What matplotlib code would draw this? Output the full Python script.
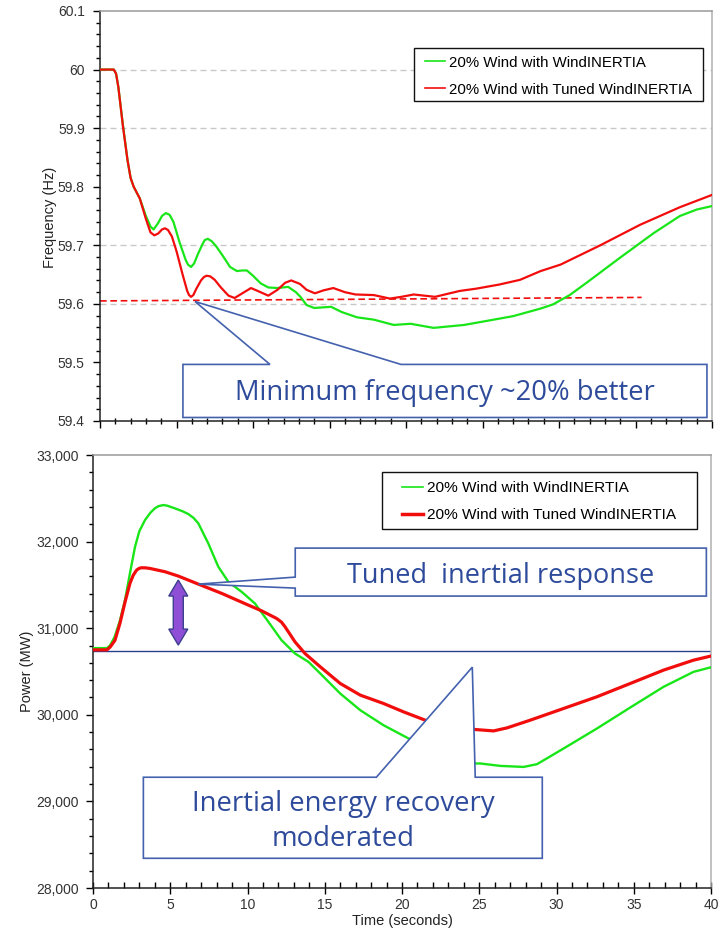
import matplotlib
matplotlib.use("Agg")
import matplotlib.pyplot as plt
from matplotlib.lines import Line2D
from matplotlib.patches import Polygon, Rectangle
from matplotlib.transforms import IdentityTransform
from matplotlib.ticker import MultipleLocator, FuncFormatter, FixedLocator

plt.rcParams['font.family'] = ['Liberation Sans', 'DejaVu Sans']

# ---------------- data ----------------
series_labels = ["20% Wind with WindINERTIA", "20% Wind with Tuned WindINERTIA"]

freq_green_t = [0, 0.9, 1.05, 1.2, 1.5, 1.8, 2.0, 2.2, 2.6, 3.0, 3.3, 3.5, 3.8, 4.05, 4.3, 4.55,
                4.8, 5.2, 5.6, 5.75, 5.95, 6.15, 6.4, 6.7, 6.85, 7.05, 7.3, 7.6, 8.0, 8.5, 8.95,
                9.3, 9.6, 10.0, 10.5, 11.0, 11.6, 12.3, 12.8, 13.1, 13.5, 14.0, 14.6, 15.1, 15.8,
                16.8, 17.9, 19.2, 20.3, 21.8, 23.8, 25.3, 27.0, 28.8, 29.6, 30.7, 31.8, 34.0,
                36.2, 37.9, 39.0, 40.0]
freq_green = [60.0, 60.0, 59.993, 59.97, 59.905, 59.845, 59.815, 59.800, 59.780, 59.750, 59.732,
              59.727, 59.738, 59.750, 59.755, 59.752, 59.740, 59.705, 59.675, 59.667, 59.663,
              59.669, 59.685, 59.702, 59.709, 59.711, 59.707, 59.698, 59.683, 59.663, 59.656,
              59.657, 59.657, 59.648, 59.635, 59.628, 59.627, 59.629, 59.620, 59.612, 59.598,
              59.593, 59.594, 59.595, 59.586, 59.577, 59.573, 59.564, 59.566, 59.559, 59.564,
              59.571, 59.579, 59.592, 59.599, 59.615, 59.636, 59.679, 59.721, 59.750, 59.761,
              59.767]

freq_red_t = [0, 0.9, 1.05, 1.2, 1.5, 1.8, 2.0, 2.2, 2.6, 3.0, 3.3, 3.55, 3.8, 4.05, 4.25, 4.45,
              4.7, 5.0, 5.4, 5.7, 5.82, 5.95, 6.1, 6.3, 6.6, 6.8, 6.97, 7.2, 7.5, 7.9, 8.4, 8.8,
              9.3, 9.87, 10.4, 11.0, 11.6, 12.1, 12.5, 13.07, 13.5, 14.05, 14.6, 15.25, 16.0,
              16.7, 17.9, 18.95, 19.7, 20.5, 21.9, 23.5, 24.6, 26.1, 27.45, 28.8, 30.1, 32.7,
              35.3, 37.9, 40.0]
freq_red = [60.0, 60.0, 59.993, 59.97, 59.903, 59.845, 59.815, 59.800, 59.780, 59.745, 59.722,
            59.717, 59.720, 59.727, 59.729, 59.726, 59.715, 59.690, 59.650, 59.622, 59.615,
            59.612, 59.615, 59.626, 59.640, 59.646, 59.648, 59.647, 59.641, 59.628, 59.614,
            59.610, 59.618, 59.627, 59.621, 59.614, 59.624, 59.636, 59.640, 59.634, 59.624,
            59.618, 59.623, 59.627, 59.620, 59.616, 59.615, 59.609, 59.612, 59.616, 59.612,
            59.622, 59.626, 59.633, 59.641, 59.656, 59.667, 59.700, 59.735, 59.765, 59.786]

min_freq_line_t = [0.0, 35.4]
min_freq_line = [59.605, 59.611]

power_green_t = [0, 0.9, 1.1, 1.4, 1.75, 2.07, 2.39, 2.72, 3.0, 3.37, 3.7, 4.0, 4.25, 4.55, 4.8,
                 5.3, 5.8, 6.17, 6.5, 6.82, 7.46, 8.11, 8.76, 9.62, 10.48, 11.35, 12.2, 13.07,
                 13.94, 14.71, 16.0, 17.3, 18.8, 20.43, 24.74, 25.07, 26.36, 27.87, 28.74,
                 30.46, 32.62, 34.78, 36.93, 38.87, 39.96]
power_green = [30770, 30770, 30800, 30900, 31093, 31325, 31633, 31940, 32120, 32250, 32330,
               32384, 32410, 32422, 32415, 32384, 32350, 32318, 32275, 32210, 31980, 31710,
               31536, 31420, 31286, 31074, 30862, 30708, 30612, 30477, 30246, 30053, 29880,
               29726, 29438, 29438, 29410, 29398, 29430, 29611, 29842, 30085, 30323, 30496,
               30547]

power_red_t = [0, 0.9, 1.1, 1.42, 1.75, 2.07, 2.39, 2.6, 2.82, 3.0, 3.15, 3.4, 3.69, 4.66, 5.52,
               6.82, 8.33, 10.05, 10.91, 11.88, 12.2, 12.43, 12.75, 13.07, 13.72, 14.71, 16.0,
               17.3, 18.8, 20.1, 21.5, 24.74, 25.93, 26.8, 28.3, 30.46, 32.6, 34.78, 36.93,
               38.87, 39.96]
power_red = [30750, 30750, 30780, 30860, 31060, 31300, 31517, 31610, 31671, 31692, 31698,
             31697, 31690, 31652, 31602, 31509, 31402, 31267, 31201, 31113, 31070, 31016,
             30930, 30843, 30708, 30554, 30362, 30227, 30131, 30034, 29938, 29830, 29814,
             29849, 29938, 30073, 30207, 30362, 30516, 30631, 30677]

power_baseline = 30735

freq_grid = [60.0, 59.9, 59.7, 59.6]
freq_ticks = [59.4, 59.5, 59.6, 59.7, 59.8, 59.9, 60.0, 60.1]
power_ticks = [28000, 29000, 30000, 31000, 32000, 33000]
time_ticks = [0, 5, 10, 15, 20, 25, 30, 35, 40]

callout_top_text = "Minimum frequency ~20% better"
callout_tuned_text = "Tuned  inertial response"
callout_energy_text = ["Inertial energy recovery", "moderated"]

GREEN = '#19E619'
RED = '#F20D0D'
NAVY = '#2E4B9B'
EDGE = '#4461AE'

# ---------------- figure ----------------
fig = plt.figure(figsize=(7.2, 9.31), dpi=100)
W, H = 720, 931
ax1 = fig.add_axes([100 / W, 1 - 421 / H, 612 / W, 410 / H])
ax2 = fig.add_axes([93 / W, 1 - 888 / H, 618 / W, 433 / H])

for ax in (ax1, ax2):
    ax.spines['left'].set_color('#222222')
    ax.spines['bottom'].set_color('#222222')
    ax.spines['top'].set_color('#9a9a9a')
    ax.spines['right'].set_color('#b0b0b0')
    for s in ax.spines.values():
        s.set_linewidth(1.1)
    ax.set_xlim(0, 40)

# top chart
ax1.set_ylim(59.4, 60.1)
for g in freq_grid:
    ax1.axhline(g, color='#c8c8c8', lw=1.0, ls=(0, (4.3, 2.9)), zorder=0)
ax1.plot(freq_green_t, freq_green, color=GREEN, lw=1.6, zorder=3)
ax1.plot(freq_red_t, freq_red, color=RED, lw=1.6, zorder=4)
ax1.plot(min_freq_line_t, min_freq_line, color=RED, lw=1.2, ls=(0, (4, 2.2)), zorder=2)

ax1.xaxis.set_major_locator(FixedLocator(time_ticks))
ax1.xaxis.set_minor_locator(MultipleLocator(1))
ax1.set_xticklabels([])
ax1.yaxis.set_major_locator(FixedLocator(freq_ticks))
ax1.yaxis.set_minor_locator(MultipleLocator(0.02))
ax1.yaxis.set_major_formatter(FuncFormatter(lambda v, p: f"{v:g}"))
ax1.tick_params(axis='y', which='major', direction='out', length=5, width=1, labelsize=10,
                labelcolor='#333333', pad=6)
ax1.tick_params(axis='y', which='minor', direction='out', length=3, width=1)
ax1.tick_params(axis='x', which='major', direction='out', length=5, width=1)
ax1.tick_params(axis='x', which='minor', direction='inout', length=4, width=1)

# legend 1: box drawn separately to match the reference padding
ax1.add_patch(Rectangle((314 / 612, 320 / 410), 289 / 612, 53 / 410, transform=ax1.transAxes,
                        facecolor='white', edgecolor='#111111', lw=1.0, zorder=8))
leg1 = ax1.legend([Line2D([], [], color=GREEN, lw=1.2), Line2D([], [], color=RED, lw=1.2)],
                  series_labels, loc='upper left', bbox_to_anchor=(325 / 612, 365.5 / 410),
                  borderaxespad=0, borderpad=0, fontsize=10.8, frameon=False,
                  handlelength=1.33, handletextpad=0.27, labelspacing=0.88)
leg1.set_zorder(9)

# bottom chart
ax2.set_ylim(28000, 33000)
ax2.axhline(power_baseline, color='#2B3F8F', lw=1.0, zorder=2)
ax2.plot(power_green_t, power_green, color=GREEN, lw=1.7, zorder=3)
ax2.plot(power_red_t, power_red, color=RED, lw=2.3, zorder=4)

ax2.xaxis.set_major_locator(FixedLocator(time_ticks))
ax2.xaxis.set_minor_locator(MultipleLocator(1))
ax2.yaxis.set_major_locator(FixedLocator(power_ticks))
ax2.yaxis.set_minor_locator(MultipleLocator(200))
ax2.yaxis.set_major_formatter(FuncFormatter(lambda v, p: f"{int(v):,}"))
ax2.tick_params(axis='y', which='major', direction='out', length=5, width=1, labelsize=10,
                labelcolor='#333333', pad=5)
ax2.tick_params(axis='y', which='minor', direction='out', length=3, width=1)
ax2.tick_params(axis='x', which='major', direction='inout', length=8, width=1, labelsize=10,
                labelcolor='#333333', pad=3)
ax2.tick_params(axis='x', which='minor', direction='in', length=4, width=1)

ax2.add_patch(Rectangle((289 / 618, 359 / 433), 315 / 618, 57 / 433, transform=ax2.transAxes,
                        facecolor='white', edgecolor='#111111', lw=1.0, zorder=8))
leg2 = ax2.legend([Line2D([], [], color=GREEN, lw=1.2), Line2D([], [], color=RED, lw=2.5)],
                  series_labels, loc='upper left', bbox_to_anchor=(309 / 618, 406.5 / 433),
                  borderaxespad=0, borderpad=0, fontsize=11.1, frameon=False,
                  handlelength=1.35, handletextpad=0.27, labelspacing=0.84)
leg2.set_zorder(9)

# axis labels
fig.text(50 / W, 1 - 217 / H, "Frequency (Hz)", rotation=90, ha='center', va='center',
         fontsize=10.5, color='#222222')
fig.text(27 / W, 1 - 671 / H, "Power (MW)", rotation=90, ha='center', va='center',
         fontsize=10.5, color='#222222')
fig.text(402 / W, 1 - 921 / H, "Time (seconds)", ha='center', va='center',
         fontsize=10.5, color='#222222')

# ---------------- callouts ----------------
cfont = ['Open Sans', 'DejaVu Sans']

top_poly = [(5.42, 59.4966), (11.11, 59.4966), (6.21, 59.604), (19.67, 59.4966),
            (39.67, 59.4966), (39.67, 59.406), (5.42, 59.406)]
ax1.add_patch(Polygon(top_poly, closed=True, facecolor='white', edgecolor=EDGE, lw=1.2, zorder=6))
t_top = ax1.text(22.55, 59.4352, callout_top_text, ha='center', va='baseline',
                 color=NAVY, fontsize=20, family=cfont, zorder=7)

tuned_poly = [(13.09, 31925), (39.7, 31925), (39.7, 31371), (13.09, 31371), (13.09, 31463),
              (6.82, 31509), (13.09, 31590)]
ax2.add_patch(Polygon(tuned_poly, closed=True, facecolor='white', edgecolor=EDGE, lw=1.2, zorder=6))
t_tuned = ax2.text(26.4, 31517, callout_tuned_text, ha='center', va='baseline',
                   color=NAVY, fontsize=20, family=cfont, zorder=7)

energy_poly = [(3.26, 29279), (18.34, 29279), (24.55, 30550), (24.74, 29279), (29.08, 29279),
               (29.08, 28343), (3.26, 28343)]
ax2.add_patch(Polygon(energy_poly, closed=True, facecolor='white', edgecolor=EDGE, lw=1.2, zorder=6))
t_e1 = ax2.text(16.17, 28886, callout_energy_text[0], ha='center', va='baseline',
                color=NAVY, fontsize=20, family=cfont, zorder=7)
t_e2 = ax2.text(16.17, 28482, callout_energy_text[1], ha='center', va='baseline',
                color=NAVY, fontsize=20, family=cfont, zorder=7)

# fit callout font sizes to the measured widths in the reference
fig.canvas.draw()
r = fig.canvas.get_renderer()
for txt, target in ((t_top, 420), (t_tuned, 305), (t_e1, 303)):
    w = txt.get_window_extent(r).width
    txt.set_fontsize(txt.get_fontsize() * target / w)
t_e2.set_fontsize(t_e1.get_fontsize())

# purple double arrow
cx, ytop = ax2.transData.transform((5.52, 31556))
_, ybot = ax2.transData.transform((5.52, 30805))
sw, hw, hl = 5, 9.5, 16
verts = [(cx - sw, ybot + hl), (cx - hw, ybot + hl), (cx, ybot), (cx + hw, ybot + hl),
         (cx + sw, ybot + hl), (cx + sw, ytop - hl), (cx + hw, ytop - hl), (cx, ytop),
         (cx - hw, ytop - hl), (cx - sw, ytop - hl)]
arrow = Polygon(verts, closed=True, facecolor='#8E4FD6', edgecolor='#3B3F8C', lw=1.0,
                transform=IdentityTransform(), zorder=8)
fig.add_artist(arrow)

fig.savefig("out.png", dpi=100)
